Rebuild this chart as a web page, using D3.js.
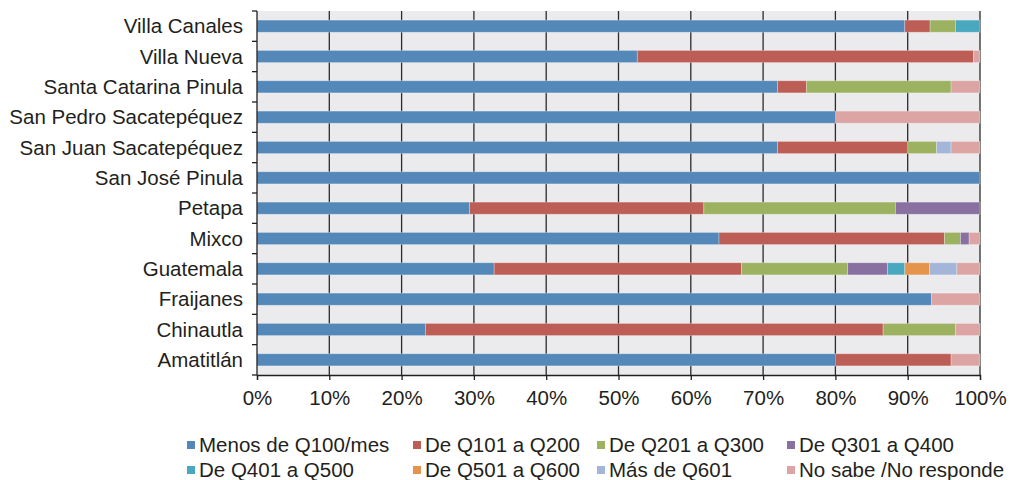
<!DOCTYPE html>
<html>
<head>
<meta charset="utf-8">
<script src="https://cdn.jsdelivr.net/npm/d3@7"></script>
<style>
  body { margin: 0; background: #fff; }
  text { font-family: "Liberation Sans", Arial, sans-serif; fill: #231f20; }
</style>
</head>
<body>
<div id="chart"></div>
<script>
// Categories, top to bottom
var categories = ["Villa Canales", "Villa Nueva", "Santa Catarina Pinula", "San Pedro Sacatepéquez",
  "San Juan Sacatepéquez", "San José Pinula", "Petapa", "Mixco", "Guatemala", "Fraijanes",
  "Chinautla", "Amatitlán"];

var seriesNames = ["Menos de Q100/mes", "De Q101 a Q200", "De Q201 a Q300", "De Q301 a Q400",
  "De Q401 a Q500", "De Q501 a Q600", "Más de Q601", "No sabe /No responde"];

var seriesColors = ["#5388b8", "#bd5e56", "#9db261", "#8870a0", "#4aa8be", "#e5954b", "#a3b6d8", "#dca5a4"];

// Percentages per series, one entry per category (same order as categories)
var menosQ100 = [89.6, 52.6, 72.0, 80.0, 72.0, 100, 29.4, 63.9, 32.8, 93.3, 23.3, 80.0];
var q101a200  = [3.5, 46.5, 4.0, 0, 18.0, 0, 32.4, 31.2, 34.2, 0, 63.3, 16.0];
var q201a300  = [3.5, 0, 20.0, 0, 4.0, 0, 26.5, 2.2, 14.7, 0, 10.0, 0];
var q301a400  = [0, 0, 0, 0, 0, 0, 11.7, 1.2, 5.5, 0, 0, 0];
var q401a500  = [3.4, 0, 0, 0, 0, 0, 0, 0, 2.4, 0, 0, 0];
var q501a600  = [0, 0, 0, 0, 0, 0, 0, 0, 3.4, 0, 0, 0];
var masQ601   = [0, 0, 0, 0, 2.0, 0, 0, 0, 3.8, 0, 0, 0];
var noSabe    = [0, 0.9, 4.0, 20.0, 4.0, 0, 0, 1.5, 3.2, 6.7, 3.4, 4.0];

var xTicks = [0, 10, 20, 30, 40, 50, 60, 70, 80, 90, 100];

var seriesValues = [menosQ100, q101a200, q201a300, q301a400, q401a500, q501a600, masQ601, noSabe];

var W = 1010, H = 480;
var margin = { top: 11, right: 30, bottom: 105, left: 257 };
var width = W - margin.left - margin.right;
var height = H - margin.top - margin.bottom;
var fontSize = "20.5px";

var svg = d3.select("#chart").append("svg")
  .attr("width", W)
  .attr("height", H);

var x = d3.scaleLinear().domain([0, 100]).range([0, width]);
var y = d3.scaleBand().domain(categories).range([0, height]).paddingInner(0.6).paddingOuter(0.3);
var yb = d3.scaleBand().domain(categories).range([0, height]);

var g = svg.append("g")
  .attr("transform", "translate(" + margin.left + "," + margin.top + ")");

// Plot background
g.append("rect")
  .attr("width", width)
  .attr("height", height)
  .attr("fill", "#ebebee");

// Vertical gridlines
g.selectAll(".grid")
  .data(xTicks.slice(1))
  .enter().append("line")
  .attr("x1", function(d) { return x(d); })
  .attr("x2", function(d) { return x(d); })
  .attr("y1", 0)
  .attr("y2", height)
  .attr("stroke", "#2b2b2b")
  .attr("stroke-width", 1.3);

// Stacked data
var rows = categories.map(function(c, i) {
  var o = { category: c };
  seriesNames.forEach(function(s, j) { o[s] = seriesValues[j][i]; });
  return o;
});
var stack = d3.stack().keys(seriesNames)(rows);

g.selectAll(".series")
  .data(stack)
  .enter().append("g")
  .attr("fill", function(d, i) { return seriesColors[i]; })
  .selectAll("rect")
  .data(function(d) { return d.filter(function(p) { return p[1] - p[0] > 0; }); })
  .enter().append("rect")
  .attr("x", function(d) { return x(d[0]); })
  .attr("width", function(d) { return x(d[1]) - x(d[0]); })
  .attr("y", function(d) { return y(d.data.category); })
  .attr("height", y.bandwidth())
  .attr("stroke", "#ffffff")
  .attr("stroke-opacity", 0.35)
  .attr("stroke-width", 0.8);

// X axis
var xAxis = g.append("g")
  .attr("transform", "translate(0," + height + ")")
  .call(d3.axisBottom(x).tickValues(xTicks).tickSize(5).tickFormat(function(d) { return d + "%"; }));
xAxis.select(".domain").attr("stroke", "#231f20").attr("stroke-width", 1.3);
xAxis.selectAll(".tick line").attr("stroke", "#231f20").attr("stroke-width", 1.3);
xAxis.selectAll("text")
  .attr("font-size", fontSize)
  .attr("dy", "1.05em")
  .style("font-family", "'Liberation Sans', Arial, sans-serif")
  .attr("fill", "#231f20");

// Y axis: ticks at band boundaries, labels at band centres
var yAxis = g.append("g");
yAxis.append("line")
  .attr("x1", 0).attr("x2", 0).attr("y1", 0).attr("y2", height)
  .attr("stroke", "#231f20").attr("stroke-width", 1.3);
var bounds = categories.map(function(c) { return yb(c); }).concat([height]);
yAxis.selectAll(".ytick")
  .data(bounds)
  .enter().append("line")
  .attr("x1", -5).attr("x2", 0)
  .attr("y1", function(d) { return d; })
  .attr("y2", function(d) { return d; })
  .attr("stroke", "#231f20").attr("stroke-width", 1.3);
yAxis.selectAll(".ylabel")
  .data(categories)
  .enter().append("text")
  .attr("x", -14)
  .attr("y", function(d) { return yb(d) + yb.bandwidth() / 2; })
  .attr("dy", "0.35em")
  .attr("text-anchor", "end")
  .attr("font-size", fontSize)
  .text(function(d) { return d; });

// Legend
var legendCols = [187, 413, 597, 787];
var legendRows = [445, 470];
var legend = svg.selectAll(".legend")
  .data(seriesNames)
  .enter().append("g")
  .attr("transform", function(d, i) {
    return "translate(" + legendCols[i % 4] + "," + legendRows[Math.floor(i / 4)] + ")";
  });
legend.append("rect")
  .attr("x", 0).attr("y", -4)
  .attr("width", 8).attr("height", 8)
  .attr("fill", function(d, i) { return seriesColors[i]; });
legend.append("text")
  .attr("x", 12)
  .attr("dy", "0.35em")
  .attr("font-size", fontSize)
  .text(function(d) { return d; });
</script>
</body>
</html>
